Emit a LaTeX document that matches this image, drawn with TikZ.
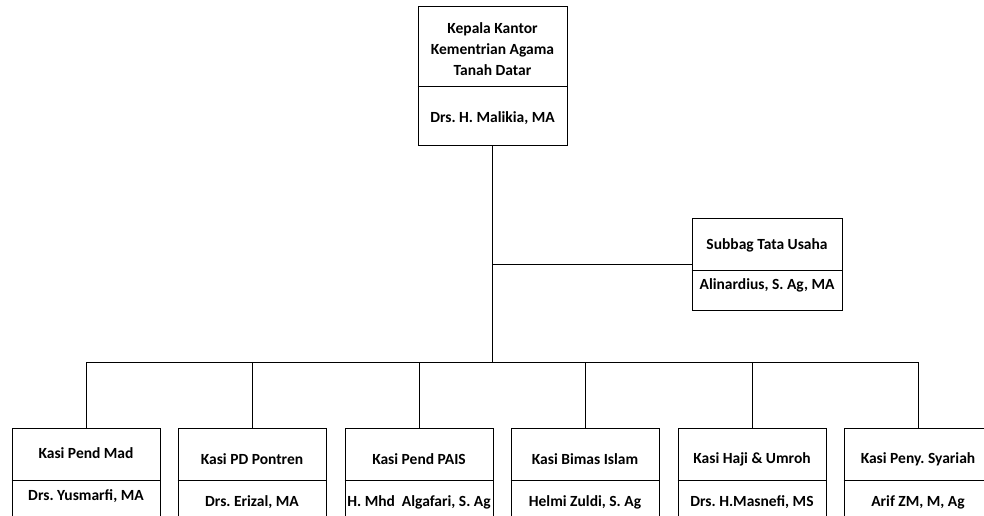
\documentclass[tikz,border=0pt]{standalone}
\usepackage{fontspec}
\setmainfont{Carlito}
\frenchspacing
\begin{document}
\begin{tikzpicture}[x=1pt,y=-1pt,
  box/.style={draw=black,line width=1pt,minimum width=149pt,inner sep=0pt},
  txt/.style={font=\fontsize{15.5}{21}\selectfont\bfseries\frenchspacing,align=center,inner sep=0pt,text=black},
  link/.style={draw=black,line width=1pt}]
\useasboundingbox (0,0) rectangle (984,516);
\clip (0,0) rectangle (984,516);
% top
\node[box,minimum height=138pt] (top) at (492.5,76) {};
\draw[link] (top.west |- 0,87) -- (top.east |- 0,87);
\node[txt] (topt) at (492.5,49) {Kepala Kantor\\Kementrian Agama\\Tanah Datar};
\node[txt] (topn) at (492.5,118) {Drs. H. Malikia, MA};
% subbag
\node[box,minimum height=92pt,minimum width=150pt] (sub) at (767,264) {};
\draw[link] (sub.west |- 0,270) -- (sub.east |- 0,270);
\node[txt] (subt) at (767,245) {Subbag Tata Usaha};
\node[txt] (subn) at (767,285) {Alinardius, S. Ag, MA};
% connectors
\coordinate (bus) at (492.5,362);
\coordinate (j1) at (492.5,264);
\coordinate (busL) at (86,362);
\coordinate (busR) at (918,362);
\draw[link] (top.south) -- (bus);
\draw[link] (j1) -- (sub.west);
\draw[link] (busL) -- (busR);
% bottom boxes
\foreach \i/\x/\ty/\ny/\t/\n in {
  1/86/453/496/{Kasi Pend Mad}/{Drs. Yusmarfi, MA},
  2/252/459/502/{Kasi PD Pontren}/{Drs. Erizal, MA},
  3/419/459/502/{Kasi Pend PAIS}/{H. Mhd\ \ Algafari, S. Ag},
  4/585/459/502/{Kasi Bimas Islam}/{Helmi Zuldi, S. Ag},
  5/752/459/502/{Kasi Haji \& Umroh}/{Drs. H.Masnefi, MS},
  6/918/459/502/{Kasi Peny. Syariah}/{Arif ZM, M, Ag}}{
  \node[box,minimum width=148pt,minimum height=110pt,anchor=north] (b\i) at (\x,428) {};
  \draw[link] (b\i.west |- 0,480) -- (b\i.east |- 0,480);
  \node[txt] (b\i t) at (\x,\ty) {\t};
  \node[txt] (b\i n) at (\x,\ny) {\n};
  \draw[link] (b\i.north) -- (b\i.north |- bus);
}
\end{tikzpicture}
\end{document}
